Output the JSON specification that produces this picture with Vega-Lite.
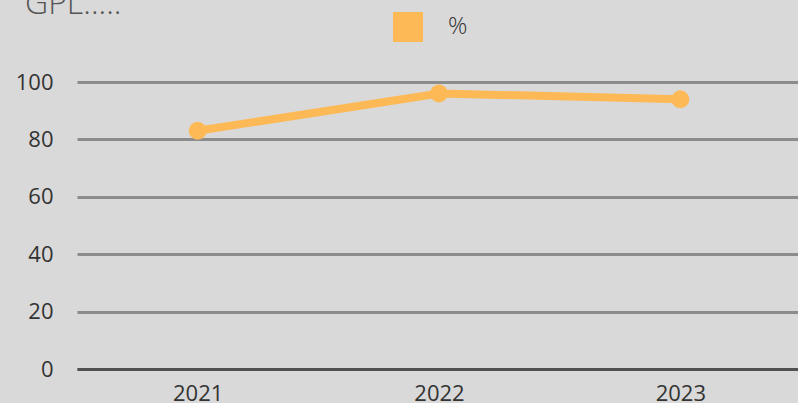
{
  "$schema": "https://vega.github.io/schema/vega-lite/v6.json",
  "width": 724,
  "height": 287,
  "autosize": {"type": "none"},
  "padding": {"left": 77, "top": 82, "right": 0, "bottom": 34},
  "background": "#d9d9d9",
  "title": {
    "text": "GPL.....",
    "anchor": "start",
    "frame": "group",
    "dx": -52,
    "offset": -34,
    "baseline": "alphabetic",
    "font": "Open Sans",
    "fontSize": 32,
    "fontWeight": 300,
    "color": "#555555"
  },
  "data": {
    "values": [
      {"year": "2021", "series": "%", "value": 83},
      {"year": "2022", "series": "%", "value": 96},
      {"year": "2023", "series": "%", "value": 94}
    ]
  },
  "encoding": {
    "x": {
      "field": "year",
      "type": "ordinal",
      "scale": {"type": "point", "padding": 0.5},
      "axis": {
        "title": null,
        "labelAngle": 0,
        "labelFont": "Open Sans",
        "labelFontSize": 22,
        "labelColor": "#333333",
        "labelPadding": 14,
        "ticks": false,
        "domain": true,
        "domainColor": "#505050",
        "domainWidth": 3,
        "grid": false
      }
    },
    "y": {
      "field": "value",
      "type": "quantitative",
      "scale": {"domain": [0, 100]},
      "axis": {
        "title": null,
        "values": [0, 20, 40, 60, 80, 100],
        "labelFont": "Open Sans",
        "labelFontSize": 22,
        "labelColor": "#333333",
        "labelPadding": 24,
        "ticks": false,
        "domain": false,
        "grid": true,
        "gridColor": "#8c8c8c",
        "gridWidth": 3,
        "gridOpacity": 1
      }
    },
    "color": {
      "field": "series",
      "type": "nominal",
      "scale": {"range": ["#fdb955"]},
      "legend": {
        "title": null,
        "orient": "none",
        "legendX": 316,
        "legendY": -70,
        "padding": 0,
        "symbolType": "square",
        "symbolSize": 900,
        "symbolStrokeWidth": 0,
        "symbolOpacity": 1,
        "labelFont": "Open Sans",
        "labelFontSize": 24,
        "labelFontWeight": 300,
        "labelColor": "#333333",
        "labelOffset": 25
      }
    }
  },
  "layer": [
    {"mark": {"type": "line", "strokeWidth": 8}},
    {"mark": {"type": "point", "filled": true, "size": 320, "opacity": 1}}
  ],
  "config": {"view": {"stroke": null}}
}
